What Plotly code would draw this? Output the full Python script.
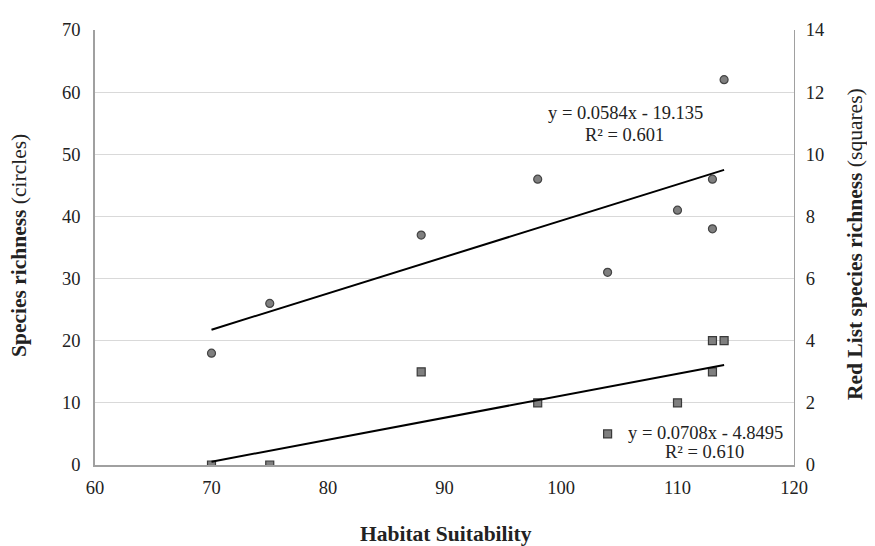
import numpy as np
import plotly.graph_objects as go

habitat = [70, 75, 88, 98, 104, 110, 113, 113, 114]
species_richness = [18, 26, 37, 46, 31, 41, 46, 38, 62]
habitat_red = [70, 75, 88, 98, 104, 110, 113, 113, 114]
red_list_richness = [0, 0, 3, 2, 1, 2, 4, 3, 4]

eq_circles = ["y = 0.0584x - 19.135", "R² = 0.601"]
eq_squares = ["y = 0.0708x - 4.8495", "R² = 0.610"]

FONT = "Liberation Serif, Times New Roman, serif"
TXT = "#222222"

x1 = np.array(habitat, dtype=float)
y1 = np.array(species_richness, dtype=float)
x2 = np.array(habitat_red, dtype=float)
y2 = np.array(red_list_richness, dtype=float)
m1, b1 = np.polyfit(x1, y1, 1)
m2, b2 = np.polyfit(x2, y2, 1)
lx1 = np.array([x1.min(), x1.max()])
lx2 = np.array([x2.min(), x2.max()])

fig = go.Figure()
fig.add_trace(go.Scatter(x=habitat, y=species_richness, mode="markers",
                         marker=dict(symbol="circle", size=8, color="#7f7f7f",
                                     line=dict(color="#444444", width=1.2)),
                         showlegend=False))
fig.add_trace(go.Scatter(x=lx1, y=m1 * lx1 + b1, mode="lines",
                         line=dict(color="black", width=2), showlegend=False))
fig.add_trace(go.Scatter(x=habitat_red, y=red_list_richness, mode="markers", yaxis="y2",
                         marker=dict(symbol="square", size=8, color="#7f7f7f",
                                     line=dict(color="#3a3a3a", width=1.2)),
                         showlegend=False))
fig.add_trace(go.Scatter(x=lx2, y=m2 * lx2 + b2, mode="lines", yaxis="y2",
                         line=dict(color="black", width=2), showlegend=False))

# page is offset by 8px body margin: plot area on page = x 95..794, y 22..465
W, H = 867, 538
L, R, T, B = 87, 81, 14, 81
pw, ph = W - L - R, H - T - B


def px(X):
    return (X - 95) / pw


def py(Y):
    return (465 - Y) / ph


def ann(text, X, Y, size, angle=0):
    return dict(text=text, x=px(X), y=py(Y), xref="paper", yref="paper",
                xanchor="center", yanchor="middle", showarrow=False, textangle=angle,
                font=dict(size=size, family=FONT, color=TXT))


fig.update_layout(
    width=W, height=H,
    margin=dict(l=L, r=R, t=T, b=B),
    paper_bgcolor="white", plot_bgcolor="white",
    font=dict(family=FONT, size=18.5, color=TXT),
    xaxis=dict(range=[60, 120], dtick=10, showgrid=False, zeroline=False,
               showline=True, linecolor="#a0a0a0", linewidth=1.5,
               ticks="", ticklabelstandoff=5, tickfont=dict(size=18.5)),
    yaxis=dict(range=[0, 70], dtick=10, showgrid=True, gridcolor="#d9d9d9", gridwidth=1,
               zeroline=False, showline=True, linecolor="#a0a0a0", linewidth=1.5,
               ticks="", ticklabelstandoff=9, tickfont=dict(size=18.5)),
    yaxis2=dict(range=[0, 14], dtick=2, overlaying="y", side="right", showgrid=False,
                zeroline=False, showline=True, linecolor="#a0a0a0", linewidth=1.2,
                ticks="", ticklabelstandoff=7, tickfont=dict(size=18.5)),
    annotations=[
        ann(eq_circles[0], 625, 107, 18.5),
        ann(eq_circles[1], 624, 129, 18.5),
        ann(eq_squares[0], 705, 432, 18.5),
        ann(eq_squares[1], 704, 452, 18.5),
        ann("<b>Species richness</b> (circles)", 19, 242, 21.5, -90),
        ann("<b>Red List species richness</b> (squares)", 855, 240, 21.5, -90),
        ann("<b>Habitat Suitability</b>", 446, 535, 21.5),
    ],
)

fig.write_html("out.html")
